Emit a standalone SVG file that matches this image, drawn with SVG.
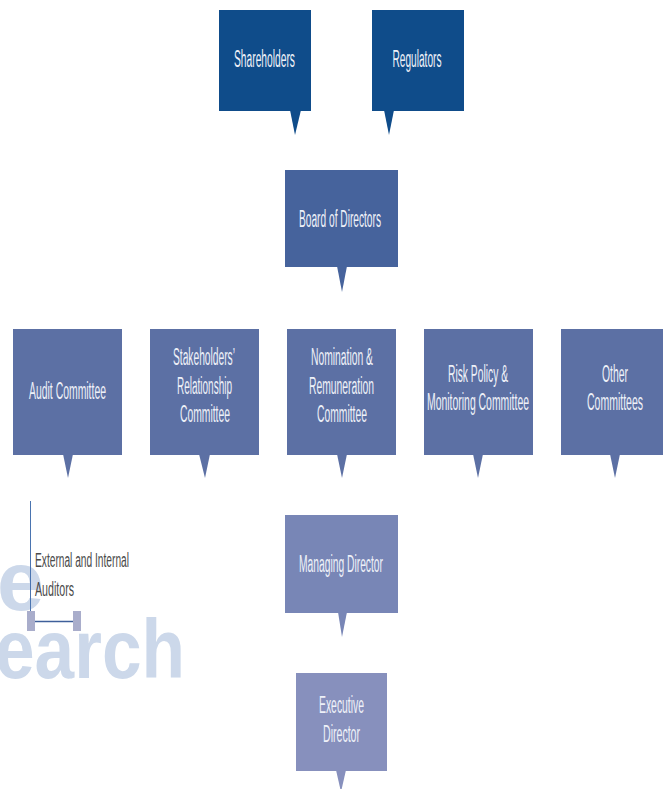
<svg xmlns="http://www.w3.org/2000/svg" width="663" height="789" viewBox="0 0 663 789">
<style>
.t{font-family:"Liberation Sans",Arial,sans-serif;font-size:23px;fill:#EEF1F8;}
.wm{font-family:"Liberation Sans",Arial,sans-serif;font-weight:bold;font-size:84px;fill:#CCD8EA;}
.lbl{font-family:"Liberation Sans",Arial,sans-serif;font-size:20px;fill:#4A4A4A;}
.c1{fill:#0F4C8A;}
.c2{fill:#46639C;}
.c3{fill:#5C70A4;}
.c4{fill:#7886B6;}
.c5{fill:#8790BD;}
</style>
<rect width="663" height="789" fill="#FFFFFF"/>
<g id="watermark">
<text class="wm" x="-3" y="610" textLength="47" lengthAdjust="spacingAndGlyphs">e</text>
<text class="wm" x="-5" y="678" textLength="190" lengthAdjust="spacingAndGlyphs">earch</text>
</g>
<g id="shareholders">
<rect class="c1" x="219" y="10" width="92" height="101"/>
<polygon class="c1" points="290,110 301,110 295,135"/>
<text class="t" x="234" y="67" textLength="61" lengthAdjust="spacingAndGlyphs">Shareholders</text>
</g>
<g id="regulators">
<rect class="c1" x="372" y="10" width="92" height="101"/>
<polygon class="c1" points="384,110 394,110 389,135"/>
<text class="t" x="392.5" y="67" textLength="49" lengthAdjust="spacingAndGlyphs">Regulators</text>
</g>
<g id="board">
<rect class="c2" x="285" y="170" width="113" height="97"/>
<polygon class="c2" points="337,266 347,266 342,292"/>
<text class="t" x="299" y="227" textLength="82" lengthAdjust="spacingAndGlyphs">Board of Directors</text>
</g>
<g id="audit">
<rect class="c3" x="13" y="329" width="109" height="126"/>
<polygon class="c3" points="63,454 73,454 68,478"/>
<text class="t" x="29" y="399" textLength="77" lengthAdjust="spacingAndGlyphs">Audit Committee</text>
</g>
<g id="stakeholders">
<rect class="c3" x="150" y="329" width="109" height="126"/>
<polygon class="c3" points="199,454 210,454 205,478"/>
<text class="t" x="173" y="365" textLength="62" lengthAdjust="spacingAndGlyphs">Stakeholders’</text>
<text class="t" x="177" y="394" textLength="55" lengthAdjust="spacingAndGlyphs">Relationship</text>
<text class="t" x="180" y="422" textLength="50" lengthAdjust="spacingAndGlyphs">Committee</text>
</g>
<g id="nomination">
<rect class="c3" x="287" y="329" width="109" height="126"/>
<polygon class="c3" points="337,454 347,454 342,478"/>
<text class="t" x="311" y="365" textLength="62" lengthAdjust="spacingAndGlyphs">Nomination &amp;</text>
<text class="t" x="309" y="394" textLength="65" lengthAdjust="spacingAndGlyphs">Remuneration</text>
<text class="t" x="317" y="422" textLength="50" lengthAdjust="spacingAndGlyphs">Committee</text>
</g>
<g id="risk">
<rect class="c3" x="424" y="329" width="109" height="126"/>
<polygon class="c3" points="473,454 483,454 478,478"/>
<text class="t" x="448" y="382" textLength="60" lengthAdjust="spacingAndGlyphs">Risk Policy &amp;</text>
<text class="t" x="427" y="410" textLength="102" lengthAdjust="spacingAndGlyphs">Monitoring Committee</text>
</g>
<g id="other">
<rect class="c3" x="561" y="329" width="102" height="126"/>
<polygon class="c3" points="610,454 620,454 615,478"/>
<text class="t" x="602" y="382" textLength="26" lengthAdjust="spacingAndGlyphs">Other</text>
<text class="t" x="587" y="410" textLength="56" lengthAdjust="spacingAndGlyphs">Committees</text>
</g>
<g id="managing">
<rect class="c4" x="285" y="515" width="113" height="98"/>
<polygon class="c4" points="338,612 347,612 342,637"/>
<text class="t" x="299" y="572" textLength="84" lengthAdjust="spacingAndGlyphs">Managing Director</text>
</g>
<g id="executive">
<rect class="c5" x="296" y="673" width="91" height="98"/>
<polygon class="c5" points="336,770 346,770 341,792"/>
<text class="t" x="319" y="713" textLength="45" lengthAdjust="spacingAndGlyphs">Executive</text>
<text class="t" x="323" y="742" textLength="37" lengthAdjust="spacingAndGlyphs">Director</text>
</g>
<g id="auditors">
<text class="lbl" x="35" y="567" textLength="94" lengthAdjust="spacingAndGlyphs">External and Internal</text>
<text class="lbl" x="35" y="596" textLength="39" lengthAdjust="spacingAndGlyphs">Auditors</text>
</g>
<g id="connectors">
<line x1="30.5" y1="501" x2="30.5" y2="612" stroke="#4A74B0" stroke-width="1"/>
<line x1="35" y1="621.5" x2="73" y2="621.5" stroke="#3F5F9A" stroke-width="1.5"/>
<rect x="27" y="611" width="8" height="20" fill="#A9ADCB"/>
<rect x="73" y="611" width="8" height="20" fill="#A9ADCB"/>
</g>
</svg>
